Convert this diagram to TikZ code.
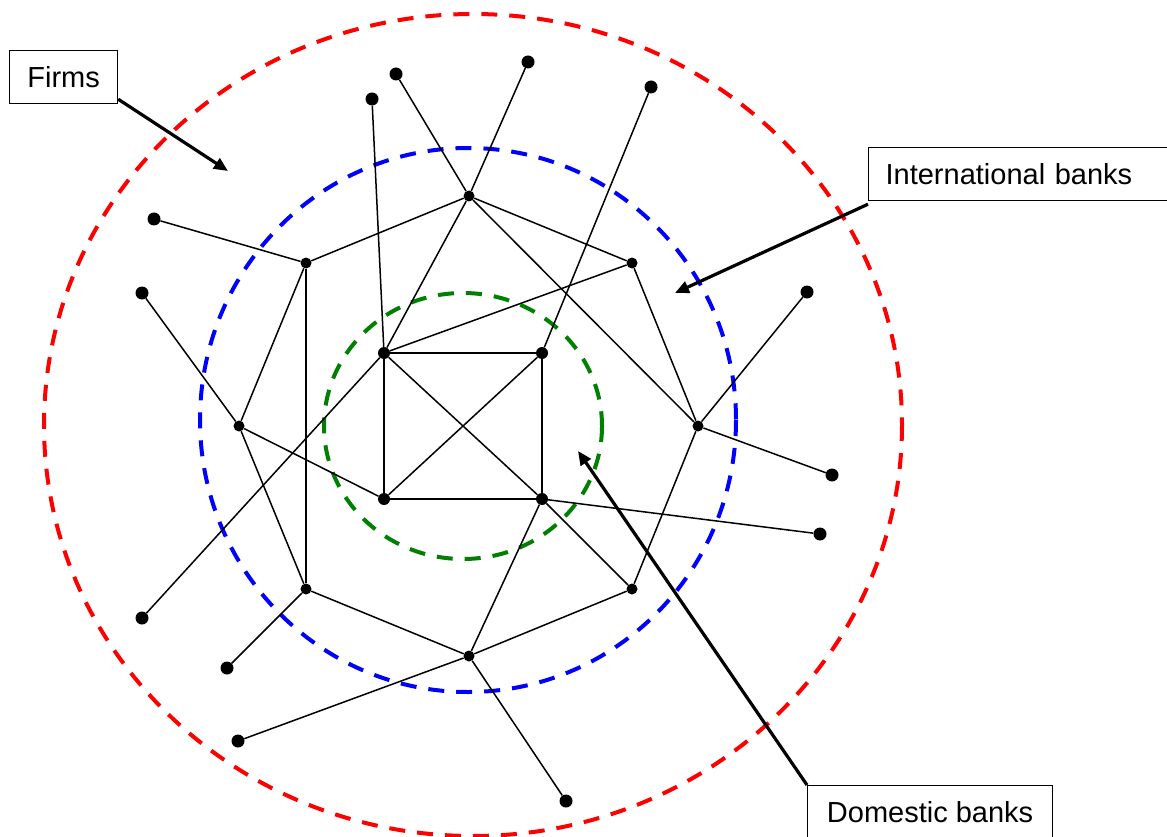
\documentclass[tikz,border=0pt]{standalone}
\usepackage{fontspec}
\setmainfont{Liberation Sans}
\usetikzlibrary{arrows.meta}
\begin{document}
\begin{tikzpicture}[x=1pt,y=-1pt,
  firm/.style={circle,fill=black,inner sep=0pt,minimum size=13pt},
  dom/.style={circle,fill=black,inner sep=0pt,minimum size=12pt},
  intl/.style={circle,fill=black,inner sep=0pt,minimum size=11pt},
  link/.style={line width=1.5pt},
  ring/.style={line width=4pt,dash pattern=on 16pt off 12pt},
  labelbox/.style={draw,line width=1.2pt,inner sep=0pt,minimum height=53pt,font=\fontsize{29}{34}\selectfont},
  pointer/.style={line width=3.2pt,-{Triangle[length=14pt,width=12pt]}}]
\useasboundingbox (0,0) rectangle (1167,837);
% rings
\draw[ring,red] (473,425) ellipse [x radius=429, y radius=411];
\draw[ring,blue] (468,420) ellipse [x radius=268, y radius=272];
\draw[ring,green!50!black] (463,426) ellipse [x radius=139, y radius=133];
% international banks
\node[intl] (A) at (469,196) {};
\node[intl] (B) at (632,263) {};
\node[intl] (C) at (698,426) {};
\node[intl] (D) at (632,589) {};
\node[intl] (E) at (469,656) {};
\node[intl] (F) at (306,589) {};
\node[intl] (G) at (239,426) {};
\node[intl] (H) at (306,263) {};
% domestic banks
\node[dom] (S1) at (384,353) {};
\node[dom] (S2) at (542,353) {};
\node[dom] (S3) at (542,499) {};
\node[dom] (S4) at (384,499) {};
% firms
\node[firm] (f1) at (396,74) {};
\node[firm] (f2) at (528,62) {};
\node[firm] (f3) at (372,99) {};
\node[firm] (f4) at (651,87) {};
\node[firm] (f5) at (154,219) {};
\node[firm] (f6) at (142,293) {};
\node[firm] (f7) at (807,292) {};
\node[firm] (f8) at (832,475) {};
\node[firm] (f9) at (820,534) {};
\node[firm] (f10) at (142,618) {};
\node[firm] (f11) at (227,668) {};
\node[firm] (f12) at (238,741) {};
\node[firm] (f13) at (566,801) {};
% links
\draw[link] (A) -- (f1);
\draw[link] (A) -- (f2);
\draw[link] (A) -- (H);
\draw[link] (A) -- (B);
\draw[link] (A) -- (C);
\draw[link] (A) -- (S1);
\draw[link] (B) -- (S1);
\draw[link] (B) -- (C);
\draw[link] (C) -- (D);
\draw[link] (C) -- (f7);
\draw[link] (C) -- (f8);
\draw[link] (D) -- (E);
\draw[link] (D) -- (S3);
\draw[link] (E) -- (F);
\draw[link] (E) -- (S3);
\draw[link] (E) -- (f12);
\draw[link] (E) -- (f13);
\draw[link] (F) -- (G);
\draw[link] (F) -- (H);
\draw[link] (F) -- (f11);
\draw[link] (G) -- (H);
\draw[link] (G) -- (S4);
\draw[link] (G) -- (f6);
\draw[link] (H) -- (f5);
\draw[link] (S1) -- (S2);
\draw[link] (S1) -- (S4);
\draw[link] (S1) -- (S3);
\draw[link] (S1) -- (f3);
\draw[link] (S1) -- (f10);
\draw[link] (S2) -- (S3);
\draw[link] (S2) -- (S4);
\draw[link] (S2) -- (f4);
\draw[link] (S3) -- (S4);
\draw[link] (S3) -- (f9);
% labels
\node[labelbox,minimum width=108pt,anchor=north west] (firms) at (9,50) {Firms};
\node[labelbox,anchor=north west,text width=290pt,align=left,inner xsep=17pt] (intlbox) at (868,147) {International banks};
\node[labelbox,minimum width=245pt,anchor=north west] (dombox) at (807,785) {Domestic banks};
\coordinate (firmtip) at (228,171);
\coordinate (intltip) at (675,293);
\coordinate (domtip) at (578,451);
\draw[pointer] (firms.south east) ++(0,-5) -- (firmtip);
\draw[pointer] ([yshift=-3pt]intlbox.south west) -- (intltip);
\draw[pointer] (dombox.north west) -- (domtip);
\end{tikzpicture}
\end{document}
